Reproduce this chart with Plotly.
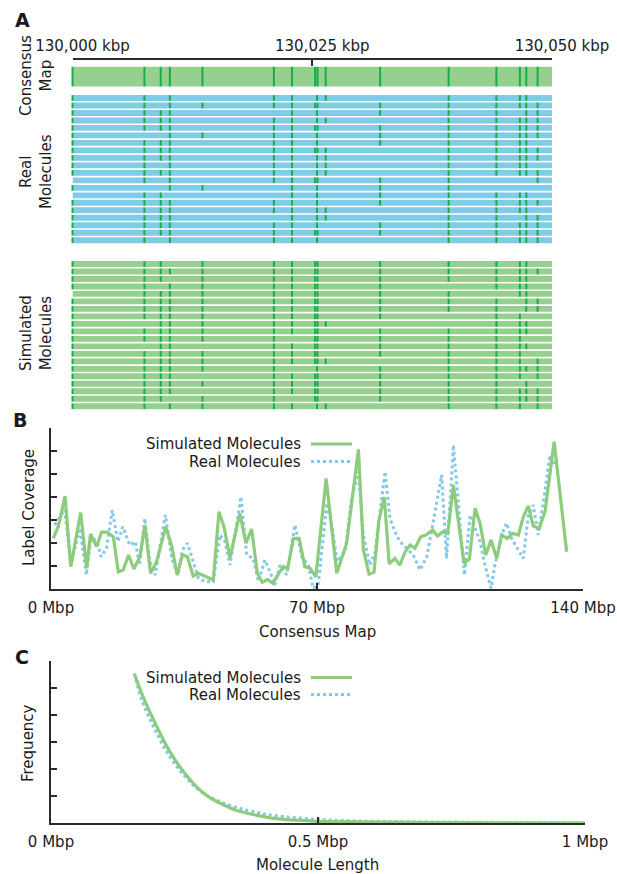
import plotly.graph_objects as go

# ---------------- DATA ----------------
# Panel A: label positions (kbp offset from 130,000 kbp)
consensus_labels = [0.0, 7.5, 9.2, 10.15, 13.55, 21.0, 22.88, 25.3, 25.55, 26.4,
                    32.08, 39.22, 44.2, 46.65, 47.32, 48.5]
real_molecules = [
    [0, 7.5, 10.15, 21.0, 22.88, 25.5, 26.4, 39.22, 44.2, 46.65, 47.32],
    [0, 7.5, 10.15, 13.55, 21.0, 22.88, 25.3, 25.55, 32.08, 39.22, 44.2, 46.65, 47.32, 48.5],
    [0, 7.5, 9.2, 10.15, 22.88, 25.5, 32.08, 39.22, 44.2, 47.32, 48.5],
    [0, 7.5, 9.2, 10.15, 21.0, 22.88, 25.5, 26.4, 39.22, 44.2, 46.65, 47.32, 48.5],
    [0, 7.5, 9.2, 10.15, 21.0, 22.88, 25.3, 25.55, 32.08, 39.22, 44.2, 46.65, 47.32, 48.5],
    [0, 10.15, 13.55, 21.0, 22.88, 25.5, 32.08, 39.22, 44.2, 46.65, 47.32, 48.5],
    [0, 7.5, 9.2, 10.15, 21.0, 22.88, 25.5, 32.08, 39.22, 44.2, 46.65, 47.32],
    [0, 7.5, 9.2, 10.15, 21.0, 22.88, 25.3, 25.55, 26.4, 39.22, 44.2, 46.65, 47.32, 48.5],
    [0, 7.5, 9.2, 10.15, 21.0, 22.88, 25.5, 26.4, 39.22, 44.2, 46.65, 47.32, 48.5],
    [0, 7.5, 10.15, 21.0, 22.88, 25.5, 26.4, 39.22, 44.2, 46.65, 47.32],
    [0, 7.5, 9.2, 10.15, 21.0, 22.88, 25.5, 26.4, 39.22, 44.2, 46.65, 47.32, 48.5],
    [7.5, 10.15, 21.0, 22.88, 25.3, 25.55, 32.08, 39.22, 48.5],
    [0, 10.15, 13.55, 22.88, 25.5, 32.08, 39.22],
    [7.5, 9.2, 22.88, 25.5, 32.08, 39.22, 44.2, 46.65, 47.32],
    [0, 7.5, 9.2, 10.15, 21.0, 22.88, 25.5, 32.08, 39.22, 44.2, 46.65, 47.32, 48.5],
    [0, 7.5, 9.2, 10.15, 21.0, 22.88, 25.5, 26.4, 39.22, 44.2, 46.65, 47.32],
    [0, 7.5, 9.2, 10.15, 22.88, 25.5, 26.4, 39.22, 44.2, 47.32, 48.5],
    [0, 7.5, 9.2, 10.15, 21.0, 22.88, 25.5, 32.08, 39.22, 44.2, 46.65, 47.32, 48.5],
    [0, 7.5, 9.2, 10.15, 21.0, 22.88, 25.3, 25.55, 32.08, 39.22, 44.2, 46.65, 47.32, 48.5],
    [0, 7.5, 10.15, 21.0, 22.88, 25.5, 39.22, 44.2, 46.65, 47.32, 48.5],
]
simulated_molecules = [
    [0, 7.5, 9.2, 13.55, 21.0, 22.88, 25.3, 25.55, 32.08, 39.22, 44.2, 46.65, 47.32],
    [0, 7.5, 9.2, 10.15, 13.55, 21.0, 22.88, 25.3, 25.55, 32.08, 39.22, 44.2, 46.65, 47.32, 48.5],
    [0, 7.5, 9.2, 13.55, 21.0, 22.88, 25.3, 25.55, 32.08, 39.22, 44.2, 46.65, 47.32],
    [0, 7.5, 10.15, 13.55, 21.0, 22.88, 25.3, 25.55, 32.08, 44.2, 46.65, 47.32],
    [7.5, 9.2, 10.15, 13.55, 21.0, 22.88, 25.3, 25.55, 32.08, 39.22, 46.65, 47.32],
    [0, 7.5, 9.2, 10.15, 13.55, 21.0, 22.88, 25.3, 25.55, 32.08, 39.22, 44.2, 47.32, 48.5],
    [0, 7.5, 9.2, 10.15, 13.55, 21.0, 22.88, 25.3, 25.55, 32.08, 39.22, 44.2, 47.32, 48.5],
    [0, 7.5, 9.2, 10.15, 13.55, 21.0, 22.88, 25.3, 25.55, 32.08, 44.2, 46.65],
    [0, 9.2, 10.15, 13.55, 21.0, 22.88, 25.3, 25.55, 26.4, 44.2, 46.65, 47.32],
    [0, 7.5, 9.2, 10.15, 13.55, 21.0, 22.88, 25.3, 25.55, 32.08, 39.22, 44.2, 46.65, 47.32],
    [0, 7.5, 9.2, 10.15, 13.55, 21.0, 25.3, 25.55, 32.08, 39.22, 44.2, 46.65],
    [0, 9.2, 10.15, 21.0, 22.88, 25.3, 25.55, 32.08, 39.22, 44.2, 46.65, 47.32],
    [0, 7.5, 9.2, 10.15, 13.55, 21.0, 22.88, 25.3, 25.55, 32.08, 39.22, 44.2, 46.65],
    [0, 7.5, 9.2, 10.15, 13.55, 21.0, 22.88, 25.3, 25.55, 26.4, 39.22, 44.2, 46.65, 48.5],
    [0, 7.5, 9.2, 10.15, 13.55, 21.0, 25.5, 32.08, 39.22, 44.2, 46.65, 47.32, 48.5],
    [0, 7.5, 9.2, 10.15, 21.0, 22.88, 25.3, 25.55, 32.08, 39.22, 44.2, 46.65, 48.5],
    [0, 7.5, 9.2, 10.15, 13.55, 21.0, 22.88, 25.3, 25.55, 32.08, 39.22, 44.2, 47.32],
    [0, 7.5, 9.2, 10.15, 21.0, 22.88, 25.3, 25.55, 32.08, 39.22, 44.2, 46.65, 47.32, 48.5],
    [0, 7.5, 9.2, 13.55, 21.0, 25.3, 25.55, 32.08, 39.22, 44.2, 46.65, 47.32, 48.5],
    [0, 7.5, 10.15, 13.55, 21.0, 22.88, 25.5, 26.4, 39.22, 44.2, 46.65, 48.5],
]
kbp_start = 130000
kbp_ticks = [130000, 130025, 130050]
kbp_ticktext = ["130,000 kbp", "130,025 kbp", "130,050 kbp"]

# Panel B: label coverage along consensus map (Mbp, coverage)
cov_sim_x = [0.6, 1.9, 3.7, 5.2, 7.8, 9.4, 10.4, 12.0, 13.3, 14.8, 16.4, 17.7, 19.0, 20.4,
             21.8, 23.4, 24.7, 26.2, 27.8, 30.2, 31.8, 33.2, 34.6, 35.9, 37.4, 38.8, 42.7,
             44.2, 45.5, 47.1, 49.7, 51.3, 52.8, 54.3, 55.6, 57.0, 58.3, 61.1, 62.3, 63.8,
             65.3, 66.8, 68.2, 69.7, 72.4, 75.2, 77.8, 80.9, 82.2, 83.7, 85.0, 86.3, 87.7,
             89.0, 90.5, 91.8, 93.2, 94.5, 95.8, 97.3, 98.7, 100.4, 101.7, 103.1, 104.4,
             105.9, 108.7, 110.1, 111.6, 112.9, 114.4, 115.8, 117.3, 118.6, 120.1, 121.5,
             123.0, 124.3, 125.6, 126.9, 128.5, 130.0, 132.4, 135.7]
cov_sim_y = [22.0, 27.1, 40.4, 9.7, 33.2, 9.0, 23.9, 18.4, 24.7, 24.7, 22.7, 7.5, 8.3, 14.8,
             8.7, 14.0, 27.8, 6.8, 11.9, 27.1, 18.4, 6.1, 14.8, 14.0, 5.7, 6.8, 3.9,
             33.6, 27.1, 13.6, 32.9, 19.9, 26.1, 6.8, 2.9, 4.2, 2.5, 9.7, 9.0, 22.0,
             22.0, 9.7, 9.0, 5.3, 48.1, 6.8, 19.9, 60.7, 17.0, 6.5, 7.3, 30.0, 39.9,
             10.9, 13.3, 10.4, 16.2, 19.1, 17.7, 22.7, 23.5, 25.7, 23.0, 24.9, 24.2,
             45.2, 11.2, 13.0, 35.1, 28.6, 14.8, 21.3, 13.3, 23.5, 22.0, 24.2,
             23.5, 31.4, 36.1, 27.4, 26.4, 33.6, 64.0, 16.2]
cov_real_x = [1.0, 3.6, 5.2, 7.6, 9.3, 10.6, 12.4, 13.2, 14.6, 16.1, 17.6, 18.9, 20.7, 22.2,
              23.3, 24.7, 26.0, 27.4, 30.1, 31.8, 33.4, 34.6, 35.9, 38.8, 40.5, 42.7, 44.5,
              45.8, 47.1, 50.0, 51.5, 53.2, 54.6, 56.3, 57.6, 58.9, 60.3, 62.0, 64.2, 66.0,
              67.7, 69.0, 70.3, 72.6, 73.9, 75.3, 77.4, 79.1, 80.9, 82.2, 83.9, 85.3, 87.9,
              89.2, 90.5, 91.8, 93.6, 95.3, 97.1, 98.9, 100.6, 102.8, 104.1, 105.9, 108.8,
              110.3, 112.9, 114.2, 115.8, 116.8, 118.6, 119.9, 121.2, 124.3, 125.6, 126.9,
              128.2, 129.6, 131.3, 132.8]
cov_real_y = [27.8, 34.5, 10.4, 26.5, 6.1, 23.5, 19.1, 14.0, 17.8, 34.3, 20.6, 27.1, 19.1, 20.6,
              10.4, 30.7, 11.9, 6.1, 32.2, 13.3, 6.1, 17.0, 19.9, 4.7, 3.2, 3.2, 23.5,
              20.6, 10.4, 40.1, 14.8, 13.3, 3.2, 12.6, 7.5, 1.7, 10.4, 6.1, 27.8, 14.0,
              10.4, 0.3, 1.7, 37.3, 27.8, 11.9, 16.2, 39.4, 51.0, 23.5, 10.4, 16.2, 51.0,
              30.7, 24.9, 20.6, 17.7, 14.8, 8.3, 14.0, 29.3, 49.6, 13.3, 62.6, 6.1,
              32.2, 20.6, 10.4, 0.3, 10.4, 23.5, 28.6, 22.0, 13.3, 32.2, 36.5,
              23.5, 38.0, 58.3, 53.0]

# Panel C: molecule length distribution (Mbp, frequency)
len_sim_x = [0.156, 0.170, 0.185, 0.200, 0.214, 0.229, 0.244, 0.259, 0.273, 0.296, 0.318,
             0.347, 0.384, 0.421, 0.495, 0.568, 0.716, 1.0]
len_sim_y = [5.53, 4.79, 4.11, 3.50, 2.94, 2.44, 2.01, 1.64, 1.33, 0.96, 0.72,
             0.47, 0.29, 0.16, 0.07, 0.04, 0.015, 0.0]
len_real_x = [0.156, 0.170, 0.185, 0.200, 0.214, 0.229, 0.244, 0.259, 0.273, 0.296, 0.318,
              0.347, 0.384, 0.421, 0.495, 0.568, 0.716, 1.0]
len_real_y = [5.53, 4.55, 3.85, 3.25, 2.72, 2.27, 1.88, 1.55, 1.28, 0.98, 0.78,
              0.58, 0.40, 0.27, 0.14, 0.08, 0.04, 0.01]

# ---------------- STYLE / LAYOUT ----------------
W, H = 617, 874
FONT = "DejaVu Sans"
TXT = "#1a1a1a"
AX = "#2b2b2b"
BLUE_BAR = "#80cbe6"
GREEN_BAR = "#96d08e"
MARK = "#1aab4c"
SIM_LINE = "#8ccc7c"
REAL_LINE = "#80c9ec"


def fx(p):
    return p / W


def fy(p):
    return 1 - p / H


fig = go.Figure()

# ----- Panel A -----
pitch = 7.65  # px per row slot
cons_y = 0.0
real_y0 = 2.85
sim_y0 = real_y0 + len(real_molecules) + 2.17
row_w = 6.0 / pitch
cons_w = 20.0 / pitch
real_rows = [real_y0 + i for i in range(len(real_molecules))]
sim_rows = [sim_y0 + i for i in range(len(simulated_molecules))]
span = kbp_ticks[-1] - kbp_ticks[0]

fig.add_trace(go.Bar(orientation="h", y=[cons_y], x=[span], base=kbp_start, width=cons_w,
                     marker=dict(color=GREEN_BAR, line=dict(width=0)), xaxis="x", yaxis="y"))
fig.add_trace(go.Bar(orientation="h", y=real_rows, x=[span] * len(real_rows), base=kbp_start,
                     width=row_w, marker=dict(color=BLUE_BAR, line=dict(width=0)),
                     xaxis="x", yaxis="y"))
fig.add_trace(go.Bar(orientation="h", y=sim_rows, x=[span] * len(sim_rows), base=kbp_start,
                     width=row_w, marker=dict(color=GREEN_BAR, line=dict(width=0)),
                     xaxis="x", yaxis="y"))

fig.add_trace(go.Scatter(x=[kbp_start + v for v in consensus_labels],
                         y=[cons_y] * len(consensus_labels), mode="markers",
                         marker=dict(symbol="line-ns", size=19.5 / 1.4,
                                     line=dict(width=2, color=MARK)),
                         xaxis="x", yaxis="y", cliponaxis=False))
mx, my = [], []
for rows, ys in ((real_molecules, real_rows), (simulated_molecules, sim_rows)):
    for labs, yy in zip(rows, ys):
        for v in labs:
            mx.append(kbp_start + v)
            my.append(yy)
fig.add_trace(go.Scatter(x=mx, y=my, mode="markers",
                         marker=dict(symbol="line-ns", size=5.6 / 1.4,
                                     line=dict(width=2, color=MARK)),
                         xaxis="x", yaxis="y", cliponaxis=False))

top_px, bot_px = 60, 410
y_top = cons_y - (77 - top_px) / pitch
y_bot = sim_rows[-1] + 0.5

# ----- Panel B -----
fig.add_trace(go.Scatter(x=cov_real_x, y=cov_real_y, mode="lines",
                         line=dict(color=REAL_LINE, width=3, dash="dot"),
                         xaxis="x2", yaxis="y2"))
fig.add_trace(go.Scatter(x=cov_sim_x, y=cov_sim_y, mode="lines",
                         line=dict(color=SIM_LINE, width=3.2),
                         xaxis="x2", yaxis="y2"))

# ----- Panel C -----
fig.add_trace(go.Scatter(x=len_real_x, y=len_real_y, mode="lines", line_shape="spline",
                         line=dict(color=REAL_LINE, width=3, dash="dot"),
                         xaxis="x3", yaxis="y3"))
fig.add_trace(go.Scatter(x=len_sim_x, y=len_sim_y, mode="lines", line_shape="spline",
                         line=dict(color=SIM_LINE, width=3.2),
                         xaxis="x3", yaxis="y3"))

axis_common = dict(showline=True, linecolor=AX, linewidth=1.6, ticks="inside", ticklen=6,
                   tickwidth=1.6, tickcolor=AX, showgrid=False, zeroline=False,
                   tickfont=dict(family=FONT, size=15, color=TXT), mirror=False,
                   automargin=False)
axis_nolab = {k: v for k, v in axis_common.items() if k != "tickfont"}

fig.update_layout(
    template="none",
    width=W, height=H, autosize=False,
    margin=dict(l=0, r=0, t=0, b=0, pad=0, autoexpand=False),
    paper_bgcolor="white", plot_bgcolor="white",
    showlegend=False, barmode="overlay", hovermode=False,
    xaxis=dict(domain=[fx(72.5), fx(552)], range=[kbp_ticks[0], kbp_ticks[-1]], side="top",
               anchor="y", tickvals=kbp_ticks, ticktext=kbp_ticktext,
               ticklabelstandoff=1, ticklabelshift=10, **axis_common),
    yaxis=dict(domain=[fy(bot_px), fy(top_px)], range=[y_bot, y_top], visible=False,
               anchor="x", automargin=False),
    xaxis2=dict(domain=[fx(51), fx(583)], range=[0, 140], anchor="y2",
                tickvals=[0, 70, 140], ticktext=["0 Mbp", "70 Mbp", "140 Mbp"],
                ticklabelstandoff=4, **axis_common),
    yaxis2=dict(domain=[fy(589), fy(428)], range=[0, 70], anchor="x2",
                tickvals=[0, 10, 20, 30, 40, 50, 60, 70], showticklabels=False, **axis_nolab),
    xaxis3=dict(domain=[fx(51), fx(585)], range=[0, 1], anchor="y3",
                tickvals=[0, 0.5, 1], ticktext=["0 Mbp", "0.5 Mbp", "1 Mbp"],
                ticklabelstandoff=4, **axis_common),
    yaxis3=dict(domain=[fy(823), fy(661)], range=[0, 6], anchor="x3",
                tickvals=[0, 1, 2, 3, 4, 5, 6], showticklabels=False, **axis_nolab),
)

ann = []


def text(x, y, s, size=15, angle=0, bold=False, xanchor="center"):
    ann.append(dict(x=fx(x), y=fy(y), xref="paper", yref="paper",
                    text=(f"<b>{s}</b>" if bold else s),
                    showarrow=False, textangle=angle, xanchor=xanchor, yanchor="middle",
                    font=dict(family=FONT, size=size, color=TXT), align="center"))


# panel letters
text(22, 20, "A", size=19, bold=True)
text(20, 420, "B", size=19, bold=True)
text(22, 657, "C", size=19, bold=True)
# panel A side labels
text(36, 76, "Consensus<br>Map", angle=-90)
text(36, 172, "Real<br>Molecules", angle=-90)
text(36, 333, "Simulated<br>Molecules", angle=-90)
# panel B
text(29, 508, "Label Coverage", angle=-90)
text(317, 632, "Consensus Map")
text(303, 444, "Simulated Molecules", xanchor="right")
text(303, 461.5, "Real Molecules", xanchor="right")
# panel C
text(28, 743, "Frequency", angle=-90)
text(318, 865, "Molecule Length")
text(303, 677.5, "Simulated Molecules", xanchor="right")
text(303, 694.5, "Real Molecules", xanchor="right")

fig.update_layout(annotations=ann)

shapes = []
for yy, col, dash in ((444, SIM_LINE, "solid"), (461.5, REAL_LINE, "dot"),
                      (677.5, SIM_LINE, "solid"), (694.5, REAL_LINE, "dot")):
    shapes.append(dict(type="line", xref="paper", yref="paper", x0=fx(311), x1=fx(352),
                       y0=fy(yy), y1=fy(yy),
                       line=dict(color=col, width=3.2 if dash == "solid" else 3, dash=dash)))
fig.update_layout(shapes=shapes)

fig.write_html("out.html", config={"displayModeBar": False, "staticPlot": True},
               post_script="document.body.style.margin='0px';document.body.style.overflow='hidden';")
